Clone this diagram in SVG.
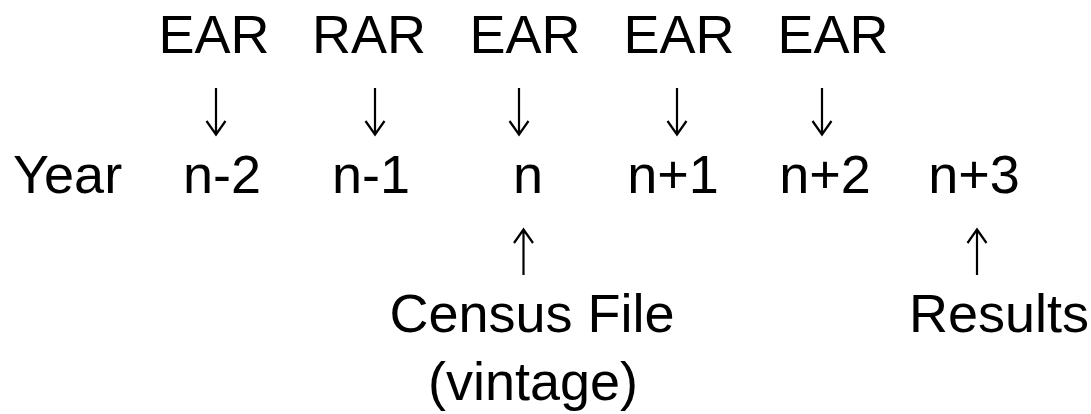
<svg xmlns="http://www.w3.org/2000/svg" width="1091" height="414" viewBox="0 0 1091 414">
<style>
text{font-family:"Liberation Sans",Arial,sans-serif;font-size:54px;fill:#000;text-anchor:middle}
.start{text-anchor:start}
.arr{fill:none;stroke:#000;stroke-width:2.2;stroke-linecap:butt;stroke-linejoin:miter}
</style>
<defs>
<path id="down" class="arr" d="M0,0 V46 M-9.5,33 L0,46.5 L9.5,33"/>
<path id="up" class="arr" d="M0,45 V-0.5 M-9.5,13 L0,-0.5 L9.5,13"/>
</defs>
<rect width="1091" height="414" fill="#fff"/>
<g id="sources">
<text x="214" y="53">EAR</text>
<text x="369" y="53">RAR</text>
<text x="525" y="53">EAR</text>
<text x="679" y="53">EAR</text>
<text x="833" y="53">EAR</text>
</g>
<g id="connectors">
<use href="#down" x="216" y="88"/>
<use href="#down" x="375" y="88"/>
<use href="#down" x="519" y="88"/>
<use href="#down" x="677" y="88"/>
<use href="#down" x="822" y="88"/>
<use href="#up" x="523.5" y="230"/>
<use href="#up" x="977" y="230"/>
</g>
<g id="years">
<text class="start" x="13" y="193">Year</text>
<text x="222" y="193">n-2</text>
<text x="371" y="193">n-1</text>
<text x="528" y="193">n</text>
<text x="673" y="193">n+1</text>
<text x="825" y="193">n+2</text>
<text x="974" y="193">n+3</text>
</g>
<g id="census">
<text x="532" y="332">Census File</text>
<text x="533" y="400">(vintage)</text>
</g>
<g id="results">
<text x="999" y="332">Results</text>
</g>
</svg>
